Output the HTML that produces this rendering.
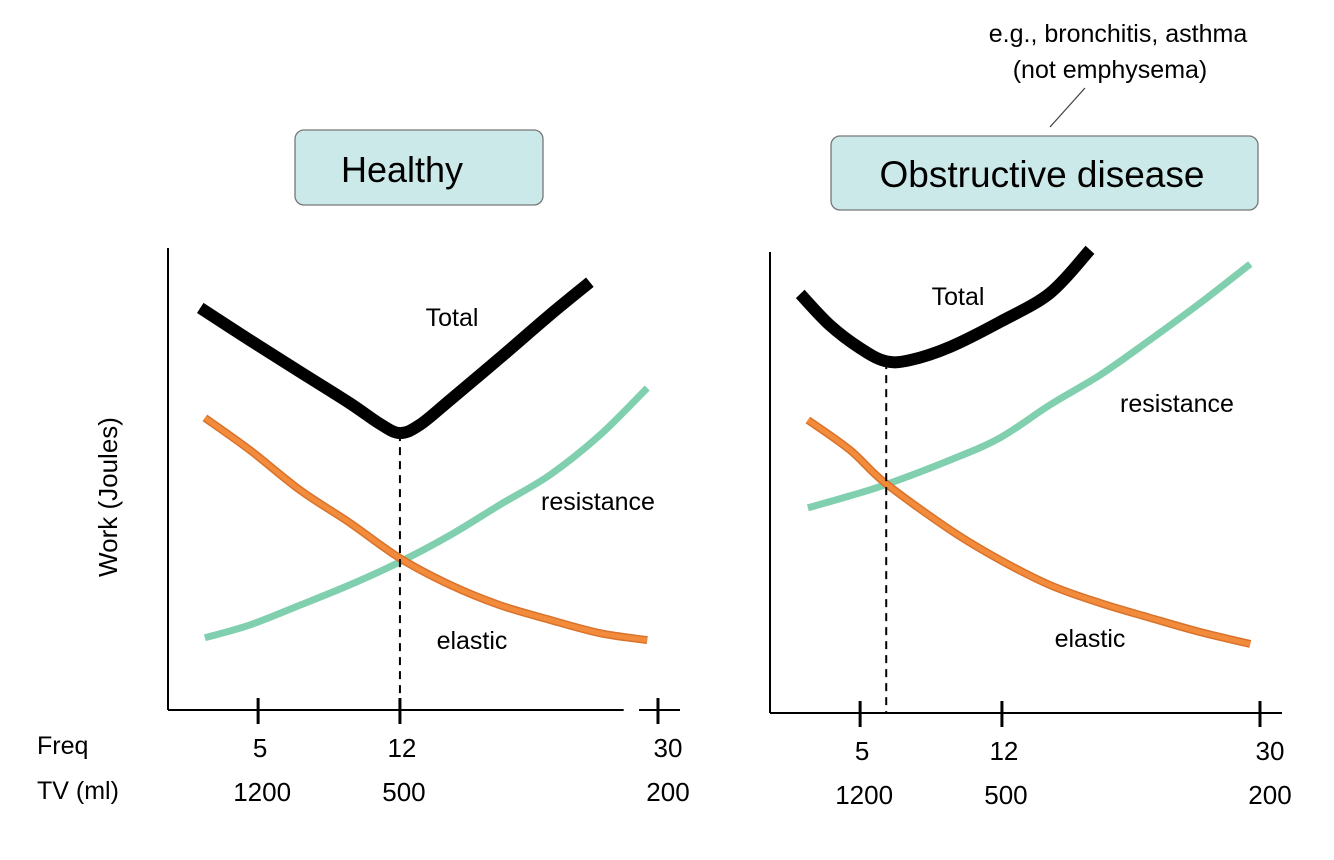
<!DOCTYPE html>
<html><head><meta charset="utf-8"><style>
html,body{margin:0;padding:0;background:#fff;}
svg{display:block;font-family:"Liberation Sans",Arial,sans-serif;}
</style></head><body>
<svg id="c" width="1334" height="860" viewBox="0 0 1334 860">
<text x="1118" y="42" font-size="25" text-anchor="middle">e.g., bronchitis,  asthma</text>
<text x="1110" y="78" font-size="25" text-anchor="middle">(not emphysema)</text>
<line x1="1085" y1="88" x2="1050" y2="127" stroke="#444" stroke-width="1.3"/>
<rect x="295" y="130" width="248" height="75" rx="9" fill="#cbe9e9" stroke="#777" stroke-width="1.3"/>
<text x="402" y="182" font-size="36" text-anchor="middle">Healthy</text>
<rect x="831" y="136" width="427" height="74" rx="9" fill="#cbe9e9" stroke="#777" stroke-width="1.3"/>
<text x="1042" y="187" font-size="37" text-anchor="middle">Obstructive disease</text>
<text transform="translate(117,497) rotate(-90)" font-size="26" text-anchor="middle">Work (Joules)</text>
<text x="37" y="754" font-size="25">Freq</text>
<text x="37" y="799" font-size="25">TV (ml)</text>
<g id="g"></g>
</svg>
<script>
const leftTotal=[[6.3,87.4],[16,80.4],[25.8,73.5],[35.5,66.7],[41.4,62.2],[45.3,60.2],[49.2,62],[55.1,67.4],[64.8,76.5],[74.6,85.9],[82.4,93]];
const leftElastic=[[7.2,63.5],[16,56.5],[25.8,47.8],[35.5,40.7],[45.3,33],[55.1,27.2],[64.8,22.8],[74.6,19.6],[84.4,16.7],[93.6,15.2]];
const leftResistance=[[7.2,15.7],[16,18.5],[25.8,22.8],[35.5,27.2],[45.3,32.2],[55.1,38],[64.8,44.6],[74.6,51.1],[84.4,59.8],[93.6,70]];
const rightTotal=[[5.9,91.1],[11.7,84.3],[17.6,79.3],[22.5,76.5],[27.3,76.7],[35.2,79.6],[44.9,85],[54.7,91.3],[62.5,100.7]];
const rightElastic=[[7.4,63.7],[15.6,57.2],[22.5,50],[35.2,39.8],[44.9,33.3],[54.7,27.8],[64.5,23.9],[74.2,20.7],[84,17.6],[93.8,15]];
const rightResistance=[[7.4,44.6],[15.6,47.2],[22.5,49.6],[35.2,55],[44.9,59.8],[54.7,67],[64.5,73.5],[74.2,81.1],[84,89.1],[93.8,97.6]];
const tickVals=[17.6,45.3,95.7];
const freqLabels=["5","12","30"];
const tvLabels=["1200","500","200"];
const leftOptimum=45.3, rightOptimum=22.7;

const NS="http://www.w3.org/2000/svg";
const G=document.getElementById('g');
function mk(t,a){const e=document.createElementNS(NS,t);for(const k in a)e.setAttribute(k,a[k]);G.appendChild(e);return e;}
function panel(x0,y0,yTop){return {x:v=>x0+v*5.12,y:v=>y0-v*4.6,x0,y0,yTop};}
function path(P,pts){const p=pts.map(d=>[P.x(d[0]),P.y(d[1])]);let s="M"+p[0][0]+","+p[0][1];
for(let i=0;i<p.length-1;i++){const a=p[i-1]||p[i],b=p[i],c=p[i+1],d=p[i+2]||c;
s+=" C"+(b[0]+(c[0]-a[0])/6)+","+(b[1]+(c[1]-a[1])/6)+" "+(c[0]-(d[0]-b[0])/6)+","+(c[1]-(d[1]-b[1])/6)+" "+c[0]+","+c[1];}return s;}
function draw(P,name,total,el,res,opt,brk){
  let e=mk('line',{x1:P.x0,y1:P.yTop,x2:P.x0,y2:P.y0,stroke:'#000','stroke-width':2});
  
  if(brk){e=mk('line',{x1:P.x0,y1:P.y0,x2:P.x(89),y2:P.y0,stroke:'#000','stroke-width':2});
    
    e=mk('line',{x1:P.x(92),y1:P.y0,x2:P.x(100),y2:P.y0,stroke:'#000','stroke-width':2});
    }
  else{e=mk('line',{x1:P.x0,y1:P.y0,x2:P.x(100),y2:P.y0,stroke:'#000','stroke-width':2});
    }
  tickVals.forEach((v,i)=>{
    let t=mk('line',{x1:P.x(v),y1:P.y0-12,x2:P.x(v),y2:P.y0+14,stroke:'#000','stroke-width':3});
    
    t=mk('text',{x:P.x(v)+(i==2?10:2),y:P.y0+47,'font-size':26,'text-anchor':'middle'});t.textContent=freqLabels[i];
    
    t=mk('text',{x:P.x(v)+(i==2?10:4),y:P.y0+91,'font-size':26,'text-anchor':'middle'});t.textContent=tvLabels[i];
    
  });
  e=mk('path',{d:path(P,res),fill:'none',stroke:'#80cfae','stroke-width':7});
  
  e=mk('path',{d:path(P,el),fill:'none',stroke:'#d9722a','stroke-width':8});
  
  e=mk('path',{d:path(P,el),fill:'none',stroke:'#f28c3c','stroke-width':5});
  
  e=mk('path',{d:path(P,total),fill:'none',stroke:'#000','stroke-width':12,'stroke-linejoin':'round'});
  
  let minY=Math.min(...total.map(d=>d[1]));
  e=mk('line',{x1:P.x(opt),y1:P.y(minY),x2:P.x(opt),y2:P.y0,stroke:'#000','stroke-width':2,'stroke-dasharray':'8,6'});
  
}
const L=panel(168,710,248), R=panel(770,713,252);
draw(L,'healthy',leftTotal,leftElastic,leftResistance,leftOptimum,true);
draw(R,'obstructive',rightTotal,rightElastic,rightResistance,rightOptimum,false);
function lab(x,y,s,n){const t=mk('text',{x,y,'font-size':25,'text-anchor':'middle'});t.textContent=s;
}
lab(452,326,'Total','healthy-total-label');lab(598,510,'resistance','healthy-resistance-label');lab(472,649,'elastic','healthy-elastic-label');
lab(958,305,'Total','obstructive-total-label');lab(1177,412,'resistance','obstructive-resistance-label');lab(1090,647,'elastic','obstructive-elastic-label');
</script>
</body></html>
